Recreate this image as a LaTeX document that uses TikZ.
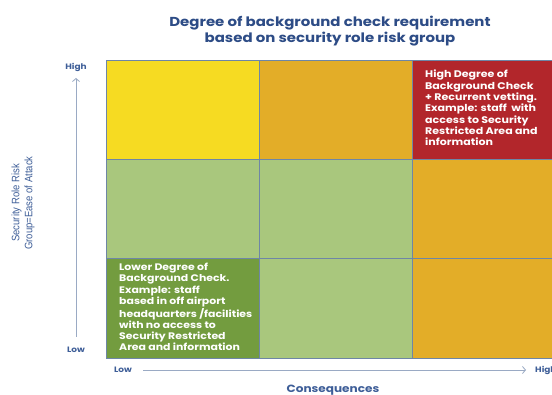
\documentclass[tikz,border=0pt]{standalone}
\usepackage{fontspec}
\setmainfont{Poppins}[FakeStretch=1.15]
\newfontfamily\axisfont{Liberation Sans}[FakeStretch=0.88]
\usetikzlibrary{positioning,arrows.meta}
\definecolor{cellyellow}{HTML}{F6DB22}
\definecolor{cellorange}{HTML}{E3AD28}
\definecolor{cellred}{HTML}{B2262B}
\definecolor{celllight}{HTML}{A9C77D}
\definecolor{celldark}{HTML}{739C3F}
\definecolor{gridline}{HTML}{6E86A6}
\definecolor{titleblue}{HTML}{2D4C86}
\definecolor{axisblue}{HTML}{3E5E98}
\definecolor{arrowgray}{HTML}{9AAAC4}
\tikzset{
x=1pt, y=-1pt, % one unit is one pixel of the reference, y runs downwards
cell/.style={draw=gridline, line width=0.6pt, minimum width=153pt, minimum height=99pt, inner sep=0pt, outer sep=0pt, anchor=north west},
celltext/.style={text=white, font=\bfseries\fontsize{9.5}{11.3}\selectfont, align=left, anchor=north west, inner sep=0pt},
endlabel/.style={text=axisblue, font=\bfseries\fontsize{7.8}{9}\selectfont, inner sep=0pt},
axisarrow/.style={draw=arrowgray, line width=0.8pt, -{Straight Barb[length=3pt,width=7pt]}},
}

\begin{document}
\begin{tikzpicture}
\useasboundingbox[fill=white] (0,0) rectangle (552,395);
% title
\node[text=titleblue, font=\bfseries\fontsize{13}{15.5}\selectfont, align=center] at (330,31) (title) {Degree of background check requirement\\based on security role risk group};
% grid of cells
\node[cell, fill=cellyellow] at (106,60) (c11) {};
\node[cell, fill=cellorange] at (259,60) (c12) {};
\node[cell, fill=cellred, minimum width=160pt] at (412,60) (c13) {};
\node[cell, fill=celllight] at (106,159) (c21) {};
\node[cell, fill=celllight] at (259,159) (c22) {};
\node[cell, fill=cellorange, minimum width=160pt] at (412,159) (c23) {};
\node[cell, fill=celldark, minimum height=100pt] at (106,258) (c31) {};
\node[cell, fill=celllight, minimum height=100pt] at (259,258) (c32) {};
\node[cell, fill=cellorange, minimum width=160pt, minimum height=100pt] at (412,258) (c33) {};
% texts in the corner cells
\node[celltext, font=\bfseries\fontsize{9.6}{11.3}\selectfont] at (425,70) (hightext) {High Degree of\\Background Check\\+ Recurrent vetting.\\Example: staff~ with\\access to Security\\Restricted Area and\\information};
\node[celltext] at (119,263) (lowtext) {Lower Degree of\\Background Check.\\Example: staff\\based in off airport\\headquarters /facilities\\with no access to\\Security Restricted\\Area and information};
% axes
\node[endlabel] at (76,67) (yhigh) {High};
\node[endlabel] at (76,350) (ylow) {Low};
\node[endlabel] at (123,370) (xlow) {Low};
\node[endlabel, anchor=west] at (535,370) (xhigh) {High};
\coordinate (ytop) at (76,78);
\coordinate (ybot) at (76,337);
\coordinate (xleft) at (143,370);
\coordinate (xright) at (526,370);
\draw[axisarrow] (ybot) -- (ytop);
\draw[axisarrow] (xleft) -- (xright);
\node[text=axisblue, font=\axisfont\fontsize{10.8}{13}\selectfont, align=center, rotate=90] at (23,203) (ylabel) {Security Role Risk\\Group=Ease of Attack};
\node[text=axisblue, font=\bfseries\fontsize{10.5}{12}\selectfont] at (333,390) (xlabel) {Consequences};
\end{tikzpicture}
\end{document}
